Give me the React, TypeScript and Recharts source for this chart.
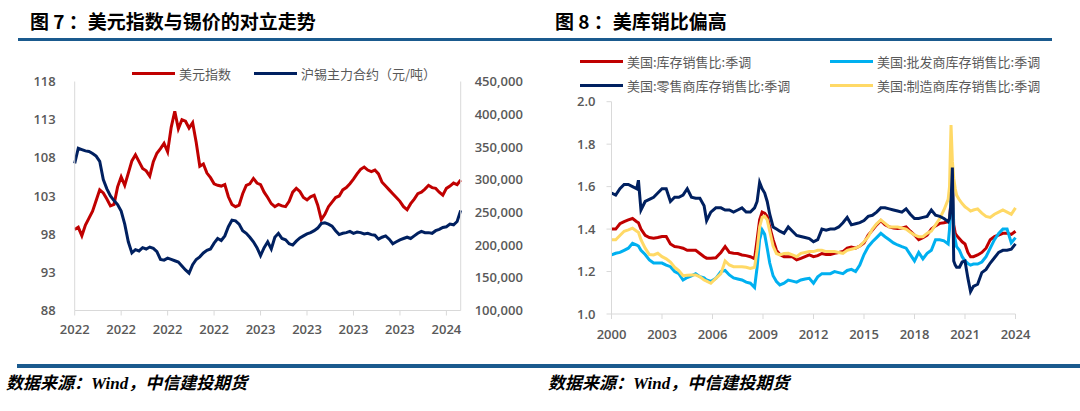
import React from 'react';
import { LineChart, Line, XAxis, YAxis } from 'recharts';

// 图7: weekly, 美元指数 vs 沪锡主力合约
const dxy: number[] = [
  98.6, 98.9, 97.8, 99.2, 100.1, 101.0, 102.4, 103.8, 103.4, 102.6,
  101.7, 101.9, 104.2, 105.5, 104.4, 106.0, 107.6, 108.4, 107.5, 106.6,
  106.3, 105.6, 107.5, 108.6, 109.2, 109.9, 108.8, 112.0, 114.1, 111.8,
  113.0, 112.8, 111.9, 112.6, 110.0, 106.9, 107.2, 106.0, 105.4, 104.6,
  104.4, 104.3, 104.5, 102.9, 101.9, 101.6, 101.8, 103.3, 104.4, 104.6,
  105.3, 104.7, 104.5, 103.5, 102.8, 102.0, 101.6, 101.9, 101.7, 101.6,
  102.3, 103.5, 104.0, 103.6, 102.8, 102.5, 102.9, 103.1, 101.8, 99.9,
  100.6, 101.6, 102.2, 102.8, 103.0, 103.8, 104.1, 104.6, 105.2, 105.9,
  106.5, 106.8, 106.4, 106.2, 106.4, 105.9, 104.8, 104.3, 103.8, 103.3,
  102.8, 102.3, 101.6, 101.2, 102.0, 102.6, 103.3, 103.5, 103.9, 104.4,
  104.1, 104.0, 103.5, 103.1, 104.0, 104.3, 104.7, 104.5, 105.1,
];

const tin: number[] = [
  325000, 348000, 346000, 344000, 343000, 340000, 336000, 328000, 300000, 286000,
  275000, 268000, 262000, 252000, 232000, 205000, 188000, 193000, 191000, 196000,
  194000, 197000, 195000, 190000, 178000, 177000, 180000, 178000, 176000, 174000,
  168000, 162000, 157000, 170000, 178000, 182000, 188000, 192000, 194000, 203000,
  210000, 207000, 214000, 228000, 238000, 237000, 232000, 222000, 218000, 212000,
  205000, 196000, 184000, 196000, 205000, 194000, 212000, 218000, 210000, 208000,
  202000, 200000, 206000, 211000, 214000, 217000, 219000, 222000, 226000, 233000,
  234000, 232000, 229000, 222000, 216000, 218000, 219000, 221000, 218000, 220000,
  219000, 217000, 218000, 216000, 215000, 209000, 212000, 214000, 209000, 202000,
  205000, 208000, 210000, 212000, 210000, 214000, 218000, 221000, 219000, 219000,
  218000, 222000, 224000, 227000, 228000, 232000, 231000, 236000, 253000,
];

const tinTickIdx = [0, 13, 26, 39, 52, 65, 78, 91, 104];
const tinTickLabels = ['2022', '2022', '2022', '2022', '2023', '2023', '2023', '2023', '2024'];

// 图8: 美国库存销售比
const period: number[] = [
  2000.0, 2000.25, 2000.5, 2000.75, 2001.0, 2001.25, 2001.5, 2001.6, 2001.75, 2002.0,
  2002.25, 2002.5, 2002.75, 2003.0, 2003.25, 2003.5, 2003.75, 2004.0, 2004.25, 2004.5,
  2004.75, 2005.0, 2005.25, 2005.5, 2005.65, 2005.9, 2006.2, 2006.5, 2006.75, 2007.0,
  2007.25, 2007.5, 2007.75, 2008.0, 2008.25, 2008.5, 2008.65, 2008.8, 2008.95, 2009.1,
  2009.25, 2009.4, 2009.6, 2009.8, 2010.0, 2010.25, 2010.5, 2010.75, 2011.0, 2011.25,
  2011.5, 2011.75, 2012.0, 2012.25, 2012.5, 2012.75, 2013.0, 2013.25, 2013.5, 2013.75,
  2014.0, 2014.25, 2014.5, 2014.75, 2015.0, 2015.25, 2015.5, 2015.75, 2016.0, 2016.25,
  2016.5, 2016.75, 2017.0, 2017.25, 2017.5, 2017.75, 2018.0, 2018.25, 2018.5, 2018.75,
  2019.0, 2019.25, 2019.5, 2019.75, 2020.0, 2020.08, 2020.17, 2020.25, 2020.33, 2020.42,
  2020.5, 2020.67, 2020.83, 2021.0, 2021.17, 2021.33, 2021.5, 2021.75, 2022.0, 2022.25,
  2022.5, 2022.75, 2023.0, 2023.25, 2023.5, 2023.75, 2024.0,
];

const invTotal: number[] = [
  1.40, 1.40, 1.425, 1.435, 1.443, 1.45, 1.435, 1.43, 1.40, 1.37,
  1.36, 1.357, 1.36, 1.365, 1.365, 1.33, 1.318, 1.315, 1.31, 1.30,
  1.30, 1.30, 1.285, 1.27, 1.263, 1.263, 1.265, 1.29, 1.318, 1.29,
  1.286, 1.285, 1.278, 1.275, 1.27, 1.26, 1.35, 1.443, 1.48, 1.475,
  1.46, 1.41, 1.35, 1.30, 1.28, 1.27, 1.27, 1.27, 1.255, 1.262,
  1.27, 1.278, 1.27, 1.275, 1.285, 1.28, 1.28, 1.286, 1.29, 1.294,
  1.31, 1.315, 1.31, 1.32, 1.335, 1.372, 1.395, 1.42, 1.44, 1.42,
  1.41, 1.405, 1.403, 1.405, 1.41, 1.39, 1.372, 1.35, 1.36, 1.372,
  1.40, 1.415, 1.427, 1.43, 1.435, 1.45, 1.53, 1.63, 1.42, 1.38,
  1.37, 1.355, 1.34, 1.33, 1.29, 1.27, 1.27, 1.278, 1.29, 1.31,
  1.35, 1.365, 1.372, 1.38, 1.38, 1.375, 1.39,
];

const invWholesale: number[] = [
  1.278, 1.286, 1.29, 1.30, 1.31, 1.333, 1.325, 1.32, 1.30, 1.28,
  1.255, 1.24, 1.24, 1.24, 1.23, 1.223, 1.20, 1.19, 1.16, 1.172,
  1.18, 1.19, 1.176, 1.17, 1.16, 1.153, 1.168, 1.20, 1.205, 1.184,
  1.17, 1.165, 1.16, 1.15, 1.145, 1.125, 1.22, 1.35, 1.396, 1.375,
  1.31, 1.24, 1.18, 1.153, 1.137, 1.145, 1.16, 1.155, 1.15, 1.16,
  1.165, 1.168, 1.145, 1.175, 1.19, 1.19, 1.19, 1.20, 1.195, 1.19,
  1.205, 1.21, 1.20, 1.23, 1.28, 1.317, 1.34, 1.36, 1.38, 1.364,
  1.35, 1.335, 1.325, 1.317, 1.31, 1.28, 1.25, 1.29, 1.26, 1.286,
  1.30, 1.35, 1.35, 1.345, 1.33, 1.40, 1.54, 1.615, 1.38, 1.35,
  1.317, 1.30, 1.27, 1.25, 1.238, 1.23, 1.235, 1.235, 1.245, 1.27,
  1.31, 1.35, 1.38, 1.40, 1.40, 1.335, 1.36,
];

const invRetail: number[] = [
  1.57, 1.56, 1.59, 1.61, 1.61, 1.60, 1.59, 1.63, 1.49, 1.53,
  1.54, 1.55, 1.57, 1.59, 1.59, 1.53, 1.55, 1.55, 1.56, 1.59,
  1.55, 1.545, 1.545, 1.51, 1.44, 1.48, 1.50, 1.50, 1.49, 1.49,
  1.48, 1.49, 1.50, 1.48, 1.48, 1.50, 1.53, 1.62, 1.59, 1.57,
  1.53, 1.47, 1.41, 1.40, 1.39, 1.38, 1.41, 1.39, 1.37, 1.365,
  1.36, 1.355, 1.34, 1.35, 1.40, 1.395, 1.40, 1.40, 1.41, 1.43,
  1.455, 1.42, 1.425, 1.43, 1.44, 1.46, 1.465, 1.48, 1.50, 1.50,
  1.495, 1.49, 1.485, 1.48, 1.495, 1.47, 1.45, 1.45, 1.455, 1.46,
  1.49, 1.465, 1.46, 1.45, 1.435, 1.45, 1.52, 1.69, 1.25, 1.23,
  1.22, 1.22, 1.245, 1.25, 1.17, 1.105, 1.13, 1.14, 1.195, 1.21,
  1.24, 1.265, 1.29, 1.30, 1.30, 1.305, 1.33,
];

const invManuf: number[] = [
  1.35, 1.35, 1.37, 1.39, 1.396, 1.404, 1.39, 1.385, 1.35, 1.31,
  1.28, 1.278, 1.286, 1.27, 1.26, 1.245, 1.22, 1.205, 1.18, 1.182,
  1.184, 1.184, 1.175, 1.16, 1.155, 1.145, 1.168, 1.19, 1.25, 1.231,
  1.223, 1.223, 1.223, 1.22, 1.215, 1.22, 1.30, 1.41, 1.455, 1.46,
  1.443, 1.39, 1.32, 1.285, 1.278, 1.285, 1.286, 1.278, 1.27, 1.286,
  1.29, 1.294, 1.294, 1.30, 1.30, 1.294, 1.294, 1.294, 1.29, 1.286,
  1.30, 1.305, 1.31, 1.32, 1.34, 1.364, 1.40, 1.425, 1.443, 1.427,
  1.41, 1.41, 1.41, 1.405, 1.40, 1.385, 1.372, 1.364, 1.364, 1.38,
  1.39, 1.42, 1.45, 1.49, 1.54, 1.60, 1.89, 1.72, 1.64, 1.59,
  1.56, 1.537, 1.52, 1.505, 1.495, 1.485, 1.49, 1.495, 1.475, 1.46,
  1.455, 1.47, 1.48, 1.49, 1.48, 1.47, 1.50,
];

const yearTicks = [2000, 2003, 2006, 2009, 2012, 2015, 2018, 2021, 2024];

const RED = '#C00000';
const NAVY = '#002060';
const SKY = '#00B0F0';
const GOLD = '#FFD966';
const BAR = '#1A5A8E';
const AXIS = '#D9D9D9';
const CJK = '"Noto Sans CJK SC", "Noto Sans", sans-serif';

const tickStyle = { fill: '#595959', fontSize: 13, fontFamily: '"Open Sans", sans-serif', fontWeight: 600 };

const tinData = dxy.map((v, i) => ({ i, dxy: v, tin: tin[i] }));
const invData = period.map((p, k) => ({
  p,
  total: invTotal[k],
  wholesale: invWholesale[k],
  retail: invRetail[k],
  manuf: invManuf[k],
}));

const LegendItem = ({ x, y, color, label }: { x: number; y: number; color: string; label: string }) => (
  <div style={{ position: 'absolute', left: x, top: y - 10, height: 20, display: 'flex', alignItems: 'center' }}>
    <div style={{ width: 43, height: 3, background: color, marginRight: 4 }} />
    <span style={{ fontFamily: CJK, fontSize: 13, color: '#595959', whiteSpace: 'nowrap' }}>{label}</span>
  </div>
);

const Title = ({ x, text }: { x: number; text: string }) => (
  <div style={{ position: 'absolute', left: x, top: 8, fontFamily: CJK, fontWeight: 700, fontSize: 19, lineHeight: '26px', color: '#000', whiteSpace: 'pre' }}>
    {text}
  </div>
);

const Source = ({ x }: { x: number }) => (
  <div style={{ position: 'absolute', left: x, top: 373, fontFamily: '"Liberation Serif", "Noto Sans CJK SC", serif', fontWeight: 700, fontStyle: 'italic', fontSize: 17, lineHeight: '22px', color: '#000' }}>
    数据来源：Wind，中信建投期货
  </div>
);

export default function App() {
  return (
    <div style={{ position: 'absolute', left: 0, top: 0, width: 1080, height: 411, background: '#fff', overflow: 'hidden' }}>
      <Title x={30} text={'图 7 ：美元指数与锡价的对立走势'} />
      <Title x={555} text={'图 8 ：美库销比偏高'} />
      <div style={{ position: 'absolute', left: 18, top: 38, width: 1034, height: 3, background: BAR }} />

      {/* left chart */}
      <div style={{ position: 'absolute', left: 0, top: 0 }}>
        <LineChart width={540} height={350} data={tinData} margin={{ top: 81.5, right: 9.3, bottom: 9.5, left: 14.7 }}>
          <XAxis
            dataKey="i"
            type="number"
            domain={[0, 108]}
            ticks={tinTickIdx}
            tickFormatter={(v: number) => tinTickLabels[tinTickIdx.indexOf(v)]}
            height={30}
            stroke={AXIS}
            tickSize={5}
            tickMargin={9}
            tick={tickStyle}
          />
          <YAxis
            yAxisId="left"
            domain={[88, 118]}
            ticks={[88, 93, 98, 103, 108, 113, 118]}
            width={60}
            stroke={AXIS}
            tickLine={false}
            tickMargin={13}
            tick={tickStyle}
          />
          <YAxis
            yAxisId="right"
            orientation="right"
            domain={[100000, 450000]}
            ticks={[100000, 150000, 200000, 250000, 300000, 350000, 400000, 450000]}
            tickFormatter={(v: number) => v.toLocaleString('en-US')}
            width={70}
            stroke={AXIS}
            tickLine={false}
            tickMargin={8}
            tick={tickStyle}
          />
          <Line yAxisId="left" dataKey="dxy" stroke={RED} strokeWidth={3} dot={false} isAnimationActive={false} />
          <Line yAxisId="right" dataKey="tin" stroke={NAVY} strokeWidth={3} dot={false} isAnimationActive={false} />
        </LineChart>
      </div>
      <LegendItem x={132} y={73} color={RED} label="美元指数" />
      <LegendItem x={254} y={73} color={NAVY} label="沪锡主力合约（元/吨）" />

      {/* right chart */}
      <div style={{ position: 'absolute', left: 540, top: 0 }}>
        <LineChart width={540} height={350} data={invData} margin={{ top: 101.7, right: 64.5, bottom: 6, left: 21.5 }}>
          <XAxis
            dataKey="p"
            type="number"
            domain={[2000, 2024]}
            ticks={yearTicks}
            height={30}
            stroke={AXIS}
            tickSize={5}
            tickMargin={11}
            tick={tickStyle}
          />
          <YAxis
            domain={[1.0, 2.0]}
            ticks={[1.0, 1.2, 1.4, 1.6, 1.8, 2.0]}
            tickFormatter={(v: number) => v.toFixed(1)}
            width={50}
            stroke={AXIS}
            tickSize={5}
            tickMargin={11}
            tick={tickStyle}
          />
          <Line dataKey="total" stroke={RED} strokeWidth={3} dot={false} isAnimationActive={false} />
          <Line dataKey="wholesale" stroke={SKY} strokeWidth={3} dot={false} isAnimationActive={false} />
          <Line dataKey="manuf" stroke={GOLD} strokeWidth={3} dot={false} isAnimationActive={false} />
          <Line dataKey="retail" stroke={NAVY} strokeWidth={3} dot={false} isAnimationActive={false} />
        </LineChart>
      </div>
      <LegendItem x={580} y={61} color={RED} label="美国:库存销售比:季调" />
      <LegendItem x={830} y={61} color={SKY} label="美国:批发商库存销售比:季调" />
      <LegendItem x={580} y={85} color={NAVY} label="美国:零售商库存销售比:季调" />
      <LegendItem x={830} y={85} color={GOLD} label="美国:制造商库存销售比:季调" />

      <div style={{ position: 'absolute', left: 17, top: 364, width: 1063, height: 4, background: BAR }} />
      <Source x={6} />
      <Source x={548} />
    </div>
  );
}
